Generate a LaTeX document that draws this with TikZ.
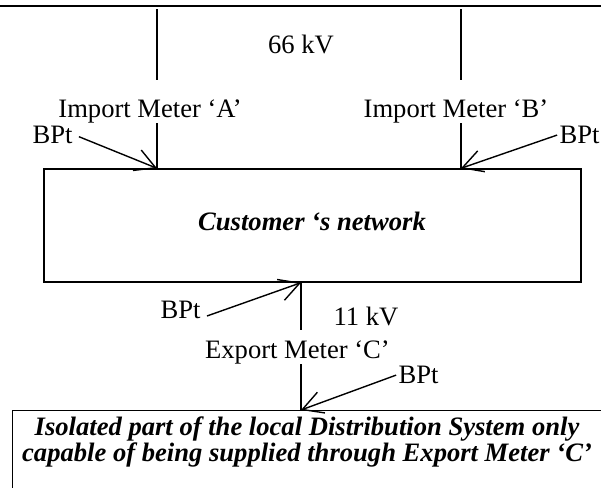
\documentclass[tikz,border=0pt]{standalone}
\usepackage{fontspec}
\setmainfont{Liberation Serif}
\usetikzlibrary{arrows.meta}

\begin{document}
\begin{tikzpicture}[x=0.5pt, y=-0.5pt, line width=0.7pt,
    every node/.style = {inner sep=0pt, font=\fontsize{13.3}{11}\selectfont},
    volt/.style = {anchor=base},
    meter/.style = {anchor=base},
    bpt/.style = {anchor=base west},
    netbox/.style = {draw, rectangle},
    boxtext/.style = {font=\fontsize{13.3}{11}\selectfont\bfseries\itshape, align=center},
    feed/.style = {-{Straight Barb[length=10pt, width=11pt]}}]
  \clip (0,0) rectangle (601,488);

  % 66 kV bus
  \coordinate (busW) at (0,6);
  \coordinate (busE) at (601,6);
  \draw[line width=1.2pt] (busW) -- (busE);
  \node[volt] (hv) at (301,53) {66 kV};

  % customer's network
  \node[netbox, minimum width=268.5pt, minimum height=56.5pt] (cust) at (312.5,225.5) {};
  \node[boxtext, anchor=base] (custtxt) at (312,230) {Customer ‘s network};

  % import meters
  \coordinate (busA) at (157,9);
  \coordinate (tapA) at (157,80);
  \coordinate (busB) at (461,9);
  \coordinate (tapB) at (461,80);
  \node[meter] (mA) at (150,117) {Import Meter ‘A’};
  \node[meter] (mB) at (456,117) {Import Meter ‘B’};
  \draw (busA) -- (tapA);
  \draw (busB) -- (tapB);
  \draw (mA.south -| busA) -- (cust.north -| busA);
  \draw (mB.south -| busB) -- (cust.north -| busB);
  \node[bpt] (bA) at (32,143) {BPt};
  \node[bpt] (bB) at (559,143) {BPt};
  \draw[feed, shorten <=3pt] (bA.east) -- (cust.north -| busA);
  \draw[feed, shorten <=1pt] (bB.west) -- (cust.north -| busB);

  % isolated part of the distribution system
  \node[netbox, anchor=north west, minimum width=320pt, minimum height=60pt] (isl) at (12,410) {};
  \node[boxtext] (isltxt) at (307,442) {Isolated part of the local Distribution System only\\capable of being supplied through Export Meter ‘C’};

  % export meter
  \coordinate (feedC) at (301,330);
  \node[volt] (lv) at (366,325) {11 kV};
  \node[meter] (mC) at (297.5,358) {Export Meter ‘C’};
  \draw (cust.south -| feedC) -- (feedC);
  \draw (mC.south -| feedC) -- (isl.north -| feedC);
  \node[bpt] (bL) at (160,318) {BPt};
  \node[bpt] (bR) at (398,383) {BPt};
  \draw[feed, shorten <=3pt] (bL.base east) -- (cust.south -| feedC);
  \draw[feed, shorten <=1pt] (bR.west) -- (isl.north -| feedC);
\end{tikzpicture}
\end{document}
